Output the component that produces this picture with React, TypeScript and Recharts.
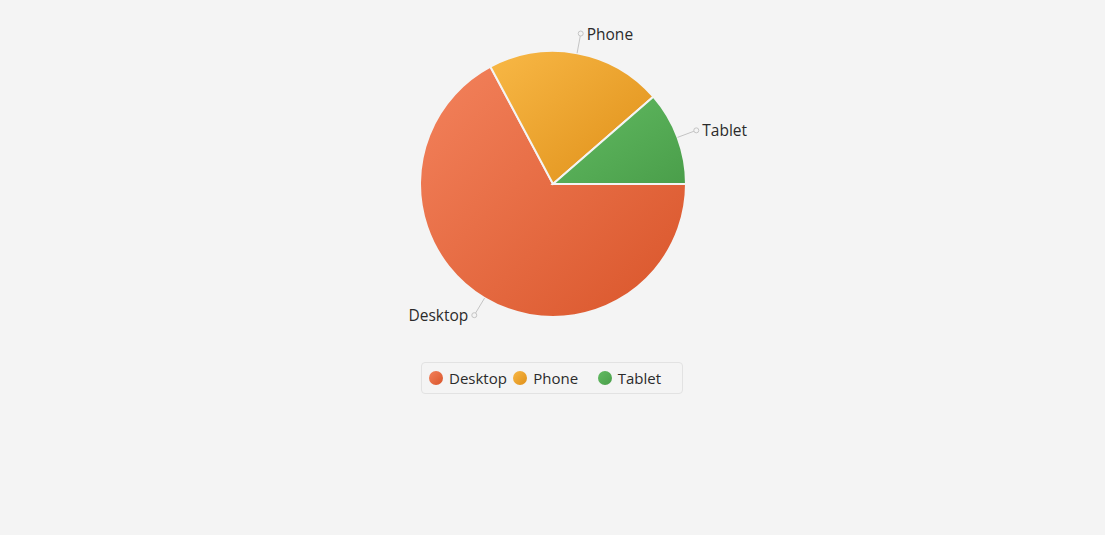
import React from 'react';
import { PieChart, Pie, Cell, Legend } from 'recharts';

const devices = ['Desktop', 'Phone', 'Tablet'];
const shares = [67.2, 21.4, 11.4];
const lightColors = ['#f3825c', '#f8b846', '#62bb62'];
const darkColors = ['#d9552a', '#df8f18', '#4a9e4a'];

const data = devices.map((name, i) => ({ name, value: shares[i] }));

const FONT = '"Open Sans", "Noto Sans", sans-serif';
const RAD = Math.PI / 180;

const renderLabel = (props: any) => {
  const { cx, cy, midAngle, outerRadius, name } = props;
  const cos = Math.cos(-midAngle * RAD);
  const sin = Math.sin(-midAngle * RAD);
  const x1 = cx + outerRadius * cos;
  const y1 = cy + outerRadius * sin;
  const x2 = cx + (outerRadius + 17.5) * cos;
  const y2 = cy + (outerRadius + 17.5) * sin;
  const xc = cx + (outerRadius + 20) * cos;
  const yc = cy + (outerRadius + 20) * sin;
  const right = cos >= 0;
  return (
    <g>
      <line x1={x1} y1={y1} x2={x2} y2={y2} stroke="#c4c4c4" strokeWidth={1} />
      <circle cx={xc} cy={yc} r={2.5} fill="#f4f4f4" stroke="#c4c4c4" strokeWidth={1} />
      <text
        x={right ? xc + 6 : xc - 6}
        y={yc}
        textAnchor={right ? 'start' : 'end'}
        dominantBaseline="central"
        fontFamily={FONT}
        fontSize={15.5}
        fill="#2b2b2b"
      >
        {name}
      </text>
    </g>
  );
};

const renderLegend = () => (
  <div
    style={{
      width: 262,
      height: 32,
      boxSizing: 'border-box',
      border: '1px solid #e2e2e2',
      borderRadius: 4,
      display: 'flex',
      alignItems: 'center',
      paddingLeft: 7,
      fontFamily: FONT,
      fontSize: 15,
      color: '#2b2b2b',
    }}
  >
    {devices.map((name, i) => (
      <div key={name} style={{ width: 85, display: 'flex', alignItems: 'center' }}>
        <span
          style={{
            width: 14,
            height: 14,
            borderRadius: 7,
            background: `linear-gradient(to bottom right, ${lightColors[i]}, ${darkColors[i]})`,
            marginRight: 6,
            display: 'inline-block',
          }}
        />
        <span>{name}</span>
      </div>
    ))}
  </div>
);

export default function App() {
  return (
    <div style={{ position: 'fixed', left: 0, top: 0, width: 1105, height: 535, background: '#f4f4f4' }}>
      <PieChart width={1105} height={535} margin={{ top: 0, right: 0, bottom: 0, left: 0 }}>
        <defs>
          {devices.map((name, i) => (
            <linearGradient key={name} id={`grad${i}`} x1="0" y1="0" x2="1" y2="1">
              <stop offset="0%" stopColor={lightColors[i]} />
              <stop offset="100%" stopColor={darkColors[i]} />
            </linearGradient>
          ))}
        </defs>
        <Pie
          data={data}
          dataKey="value"
          nameKey="name"
          cx={553}
          cy={184}
          outerRadius={133}
          startAngle={0}
          endAngle={-360}
          stroke="#f4f4f4"
          strokeWidth={2}
          label={renderLabel}
          labelLine={false}
          isAnimationActive={false}
        >
          {data.map((d, i) => (
            <Cell key={d.name} fill={`url(#grad${i})`} />
          ))}
        </Pie>
        <Legend
          content={renderLegend}
          wrapperStyle={{ left: 421, top: 362, width: 262, height: 32 }}
        />
      </PieChart>
    </div>
  );
}
